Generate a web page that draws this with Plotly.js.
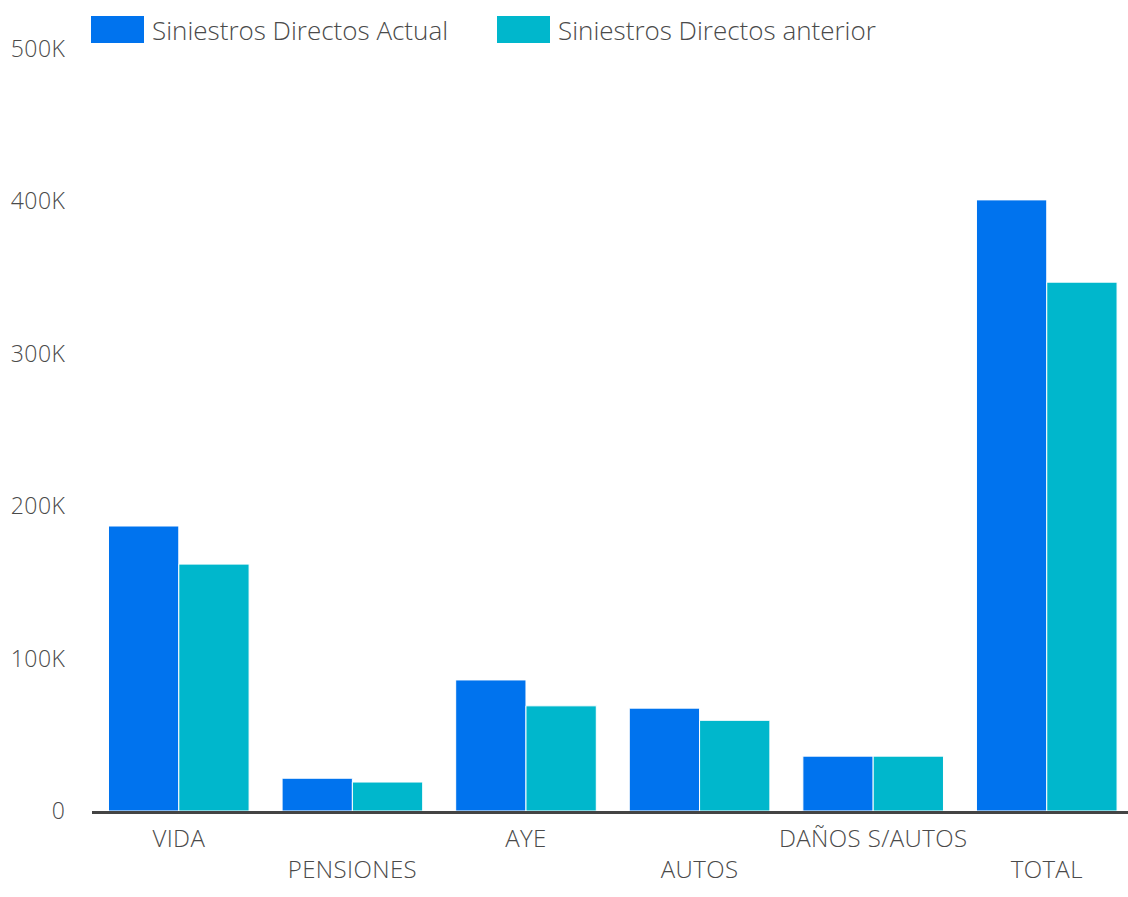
<!DOCTYPE html>
<html>
<head>
<meta charset="utf-8">
<script src="https://cdn.plot.ly/plotly-3.0.1.min.js"></script>
<style>
html,body{margin:0;padding:0;background:#fff;overflow:hidden}
#chart{width:1128px;height:897px}
#chart .xtick text{letter-spacing:0.4px}
#chart .ytick text{letter-spacing:0.5px}
</style>
</head>
<body>
<div id="chart"></div>
<script>
const categories = ["VIDA", "PENSIONES", "AYE", "AUTOS", "DAÑOS S/AUTOS", "TOTAL"];
const seriesNames = ["Siniestros Directos Actual", "Siniestros Directos anterior"];
const actual = [187000, 21500, 86000, 67500, 36000, 401000];
const anterior = [162000, 19000, 69000, 59500, 36000, 347000];
const yTickVals = [0, 100000, 200000, 300000, 400000, 500000];
const yTickText = ["0", "100K", "200K", "300K", "400K", "500K"];

const colors = ["#0073EE", "#00B7CC"];
const FONT = "'Open Sans', Lato, sans-serif";
const TXT = "#4a4a4a";

const xIdx = categories.map((c, i) => i);
const traces = [actual, anterior].map((vals, k) => ({
  type: "bar",
  x: xIdx,
  y: vals,
  name: seriesNames[k],
  marker: {color: colors[k], line: {color: "#ffffff", width: 1}},
  hoverinfo: "y+name"
}));

// stagger tick labels: odd indices pushed to second row
const tickText = categories.map((c, i) => i % 2 === 1 ? "<br>" + c : c);

const L = 92, R = 0, T = 49, B = 86, W = 1128, H = 897;
const pw = W - L - R, ph = H - T - B;
const px = v => (v - L) / pw;
const py = v => (H - B - v) / ph;

const legendX = [91, 497];
const shapes = legendX.map((x0, k) => ({
  type: "rect", xref: "paper", yref: "paper",
  x0: px(x0), x1: px(x0 + 53), y0: py(43), y1: py(16),
  fillcolor: colors[k], line: {width: 0}
}));
const annotations = legendX.map((x0, k) => ({
  xref: "paper", yref: "paper", x: px(x0 + 59), y: py(29.5),
  xanchor: "left", yanchor: "middle", showarrow: false,
  text: seriesNames[k], font: {family: FONT, size: 26, weight: 300, color: TXT}
}));

const layout = {
  width: W, height: H,
  margin: {l: L, r: R, t: T, b: B, pad: 0},
  paper_bgcolor: "#ffffff", plot_bgcolor: "#ffffff",
  barmode: "group", bargap: 0.19, bargroupgap: 0,
  showlegend: false,
  font: {family: FONT, size: 23, weight: 300, color: TXT},
  xaxis: {
    range: [-0.5, 5.468], tickmode: "array", tickvals: xIdx, ticktext: tickText,
    showgrid: false, zeroline: false, showline: true, linecolor: "#444444", linewidth: 3,
    ticks: "", ticklabelstandoff: 4, tickfont: {family: FONT, size: 24, weight: 300, color: TXT}, fixedrange: true
  },
  yaxis: {
    range: [0, 500000], tickmode: "array", tickvals: yTickVals, ticktext: yTickText,
    showgrid: false, zeroline: false, showline: false, ticks: "outside", ticklen: 21, tickcolor: "rgba(0,0,0,0)",
    tickfont: {family: FONT, size: 23, weight: 300, color: TXT}, fixedrange: true
  },
  shapes: shapes,
  annotations: annotations
};

Plotly.newPlot("chart", traces, layout, {displayModeBar: false, staticPlot: true});
</script>
</body>
</html>
